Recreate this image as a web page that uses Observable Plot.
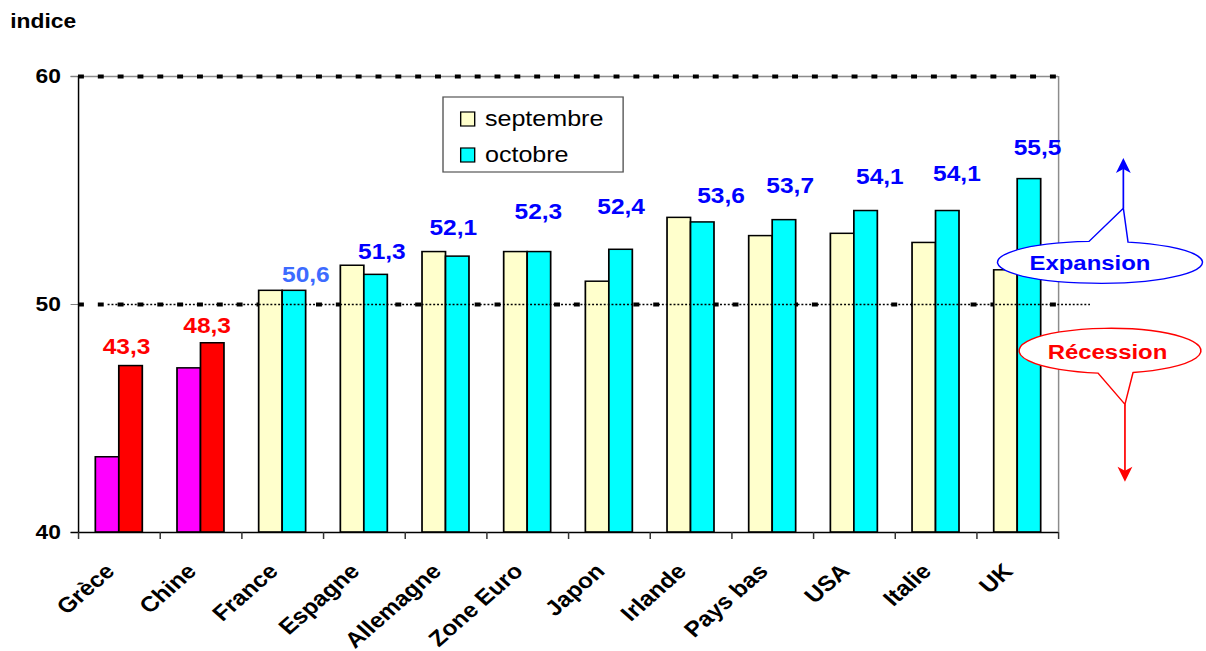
<!DOCTYPE html>
<html>
<head>
<meta charset="utf-8">
<script src="https://cdn.jsdelivr.net/npm/d3@7"></script>
<script src="https://cdn.jsdelivr.net/npm/@observablehq/plot@0.6"></script>
<style>
  html, body { margin: 0; padding: 0; background: #fff; overflow: hidden; }
  /* the chart is laid out on a narrower canvas and widened, so text is drawn slightly stretched */
  #chart { position: relative; width: 1058px; height: 651px; transform: scaleX(1.14); transform-origin: 0 0;
           font-family: "Liberation Sans", Arial, sans-serif; }
  #title { box-sizing: content-box; height: 29px; padding: 11px 0 0 9px; font-size: 20px; line-height: 20px;
           font-weight: bold; color: #000; }
</style>
</head>
<body>
<div id="chart">
  <div id="title">indice</div>
</div>
<script>
// Indices PMI manufacturiers, septembre et octobre
const countries = ["Grèce", "Chine", "France", "Espagne", "Allemagne", "Zone Euro", "Japon", "Irlande", "Pays bas", "USA", "Italie", "UK"];
const septembre = [43.3, 47.2, 50.6, 51.7, 52.3, 52.3, 51.0, 53.8, 53.0, 53.1, 52.7, 51.5];
const octobre   = [47.3, 48.3, 50.6, 51.3, 52.1, 52.3, 52.4, 53.6, 53.7, 54.1, 54.1, 55.5];
const labelValues = [43.3, 48.3, 50.6, 51.3, 52.1, 52.3, 52.4, 53.6, 53.7, 54.1, 54.1, 55.5];
const months = ["septembre", "octobre"];
const yTicks = [40, 50, 60];
const threshold = 50;

// label placement: horizontal nudge from the october bar centre, lift above its top (px)
const labelNudge = [-4, -5, 10, 5, -4, -1, 0, 16, 5, 12, 8, 7];
const labelLift  = [12, 10, 9, 16, 22, 33, 36, 19, 27, 27, 30, 24];

const W = 1058, H = 611;
const ML = 68.4, MR = W - 928.1, MT = 36, MB = 119;
const group = 0.575;            // share of each country slot taken by the two bars
const side = (1 - group) / 2;

const colors = {
  septembre: "#FFFFCC", octobre: "#00FFFF",
  septembreLow: "#FF00FF", octobreLow: "#FF0000"
};

const bars = countries.flatMap((c, i) => [
  {country: c, i, month: months[0], value: septembre[i], x1: i + side, x2: i + 0.5},
  {country: c, i, month: months[1], value: octobre[i], x1: i + 0.5, x2: i + 1 - side}
]);

const labels = countries.map((c, i) => ({country: c, i, value: labelValues[i], top: octobre[i]}));
const labelColor = d => d.value < threshold ? "#FF0000" : d.country === "France" ? "#3D6BFF" : "#0000FF";
const fmt = v => v.toFixed(1).replace(".", ",");

const plot = Plot.plot({
  width: W, height: H,
  marginLeft: ML, marginRight: MR, marginTop: MT, marginBottom: MB,
  style: {fontFamily: "Liberation Sans, Arial, sans-serif", background: "white", overflow: "visible"},
  x: {domain: [0, countries.length], axis: null},
  y: {domain: [40, 60], axis: null},
  marks: [
    // top border of the plot area
    Plot.ruleY([60], {stroke: "#8C8C8C", strokeWidth: 1.5, insetLeft: -6.5}),
    // right border
    Plot.ruleX([countries.length], {y1: 40, y2: 60, stroke: "#8C8C8C", strokeWidth: 1.3}),
    // y axis ticks and labels
    Plot.axisY(yTicks, {anchor: "left", label: null, tickSize: 6.5, tickPadding: 9, stroke: "#808080", fill: "#000",
      fontSize: 20, fontWeight: "bold", tickFormat: d => String(d)}),
    // heavy dashed gridlines
    Plot.ruleY([50, 60], {stroke: "#000", strokeWidth: 4, strokeDasharray: "5.2,12.2"}),
    // bars
    Plot.rect(bars, {
      x1: "x1", x2: "x2", y1: 40, y2: "value",
      fill: d => d.value < threshold ? colors[d.month + "Low"] : colors[d.month],
      stroke: "#000", strokeWidth: 1.5
    }),
    // axes
    Plot.ruleX([0], {y1: 40, y2: 60, stroke: "#000", strokeWidth: 1.3}),
    Plot.ruleY([40], {stroke: "#000", strokeWidth: 1.5, insetLeft: -6.5}),
    Plot.ruleX(d3.range(countries.length + 1), {y1: 40, y2: 40, insetBottom: -7, stroke: "#333", strokeWidth: 1.3}),
    // expansion / recession threshold
    Plot.ruleY([threshold], {stroke: "#000", strokeWidth: 1.6, strokeDasharray: "1.7,1.7", insetLeft: 26, insetRight: -28}),
    // value labels above the october bars
    ...labels.map(d => Plot.text([d], {
      x: r => r.i + 0.5 + group / 4, y: r => r.top, text: r => fmt(r.value),
      dx: labelNudge[d.i], dy: -labelLift[d.i], lineAnchor: "bottom",
      fill: labelColor(d), fontSize: 21.5, fontWeight: "bold"
    })),
    // country labels
    Plot.text(countries, {
      x: (d, i) => i + 0.5, frameAnchor: "bottom", dx: -3, dy: 40, rotate: -45,
      textAnchor: "end", lineAnchor: "bottom", fontSize: 21.5, fontWeight: "bold", fill: "#000"
    })
  ]
});

document.getElementById("chart").appendChild(plot);

const svg = d3.select(plot);
const y = v => plot.scale("y").apply(v);
const xr = W - MR;

// legend
const lg = svg.append("g").attr("text-anchor", "start");
lg.append("rect").attr("x", 388.6).attr("y", 57).attr("width", 158).attr("height", 75)
  .attr("fill", "#fff").attr("stroke", "#555").attr("stroke-width", 1.2);
months.forEach((m, k) => {
  lg.append("rect").attr("x", 404.1).attr("y", 72 + 36 * k).attr("width", 12.3).attr("height", 14)
    .attr("fill", colors[m]).attr("stroke", "#000").attr("stroke-width", 1.2);
  lg.append("text").attr("x", 425.4).attr("y", 86 + 36 * k).attr("text-anchor", "start")
    .attr("font-size", 22).attr("fill", "#000").text(m);
});

// callout bubble: ellipse with a pointed tail
function bubble({cx, cy, rx, ry, bl, br, ax, ay, up, color, label, tx}) {
  const s = up ? -1 : 1;
  const py = dx => cy + s * ry * Math.sqrt(1 - (dx / rx) ** 2);
  const L = [cx + bl, py(bl)], R = [cx + br, py(br)];
  const d = up
    ? `M${L}L${ax},${ay}L${R}A${rx},${ry} 0 1 1 ${L}Z`
    : `M${R}L${ax},${ay}L${L}A${rx},${ry} 0 1 1 ${R}Z`;
  svg.append("path").attr("d", d).attr("fill", "#fff").attr("stroke", color).attr("stroke-width", 1.3)
    .attr("stroke-linejoin", "miter");
  svg.append("text").attr("x", tx).attr("y", cy + 8).attr("text-anchor", "middle")
    .attr("font-size", 21).attr("font-weight", "bold").attr("fill", color).text(label);
}

function arrow(x, yFrom, yTip, color) {
  const dir = yTip < yFrom ? -1 : 1;
  svg.append("line").attr("x1", x).attr("x2", x).attr("y1", yFrom).attr("y2", yTip - dir * 8)
    .attr("stroke", color).attr("stroke-width", 1.5);
  svg.append("path")
    .attr("d", `M${x},${yTip}L${x - 6.5},${yTip - dir * 15}L${x},${yTip - dir * 11}L${x + 6.5},${yTip - dir * 15}Z`)
    .attr("fill", color);
}

const expX = xr + 57.3, recX = xr + 58.7;
arrow(expX, y(54.2), y(56.4), "#0000FF");
bubble({cx: xr + 36.8, cy: y(51.83), rx: 89.9, ry: 21, bl: -9.6, br: 24.6, ax: expX, ay: y(54.2),
        up: true, color: "#0000FF", label: "Expansion", tx: xr + 28});
arrow(recX, y(45.6), y(42.2), "#FF0000");
bubble({cx: xr + 45.6, cy: y(47.95), rx: 79.8, ry: 22.5, bl: -10.5, br: 20.2, ax: recX, ay: y(45.6),
        up: false, color: "#FF0000", label: "Récession", tx: xr + 43.4});
</script>
</body>
</html>
